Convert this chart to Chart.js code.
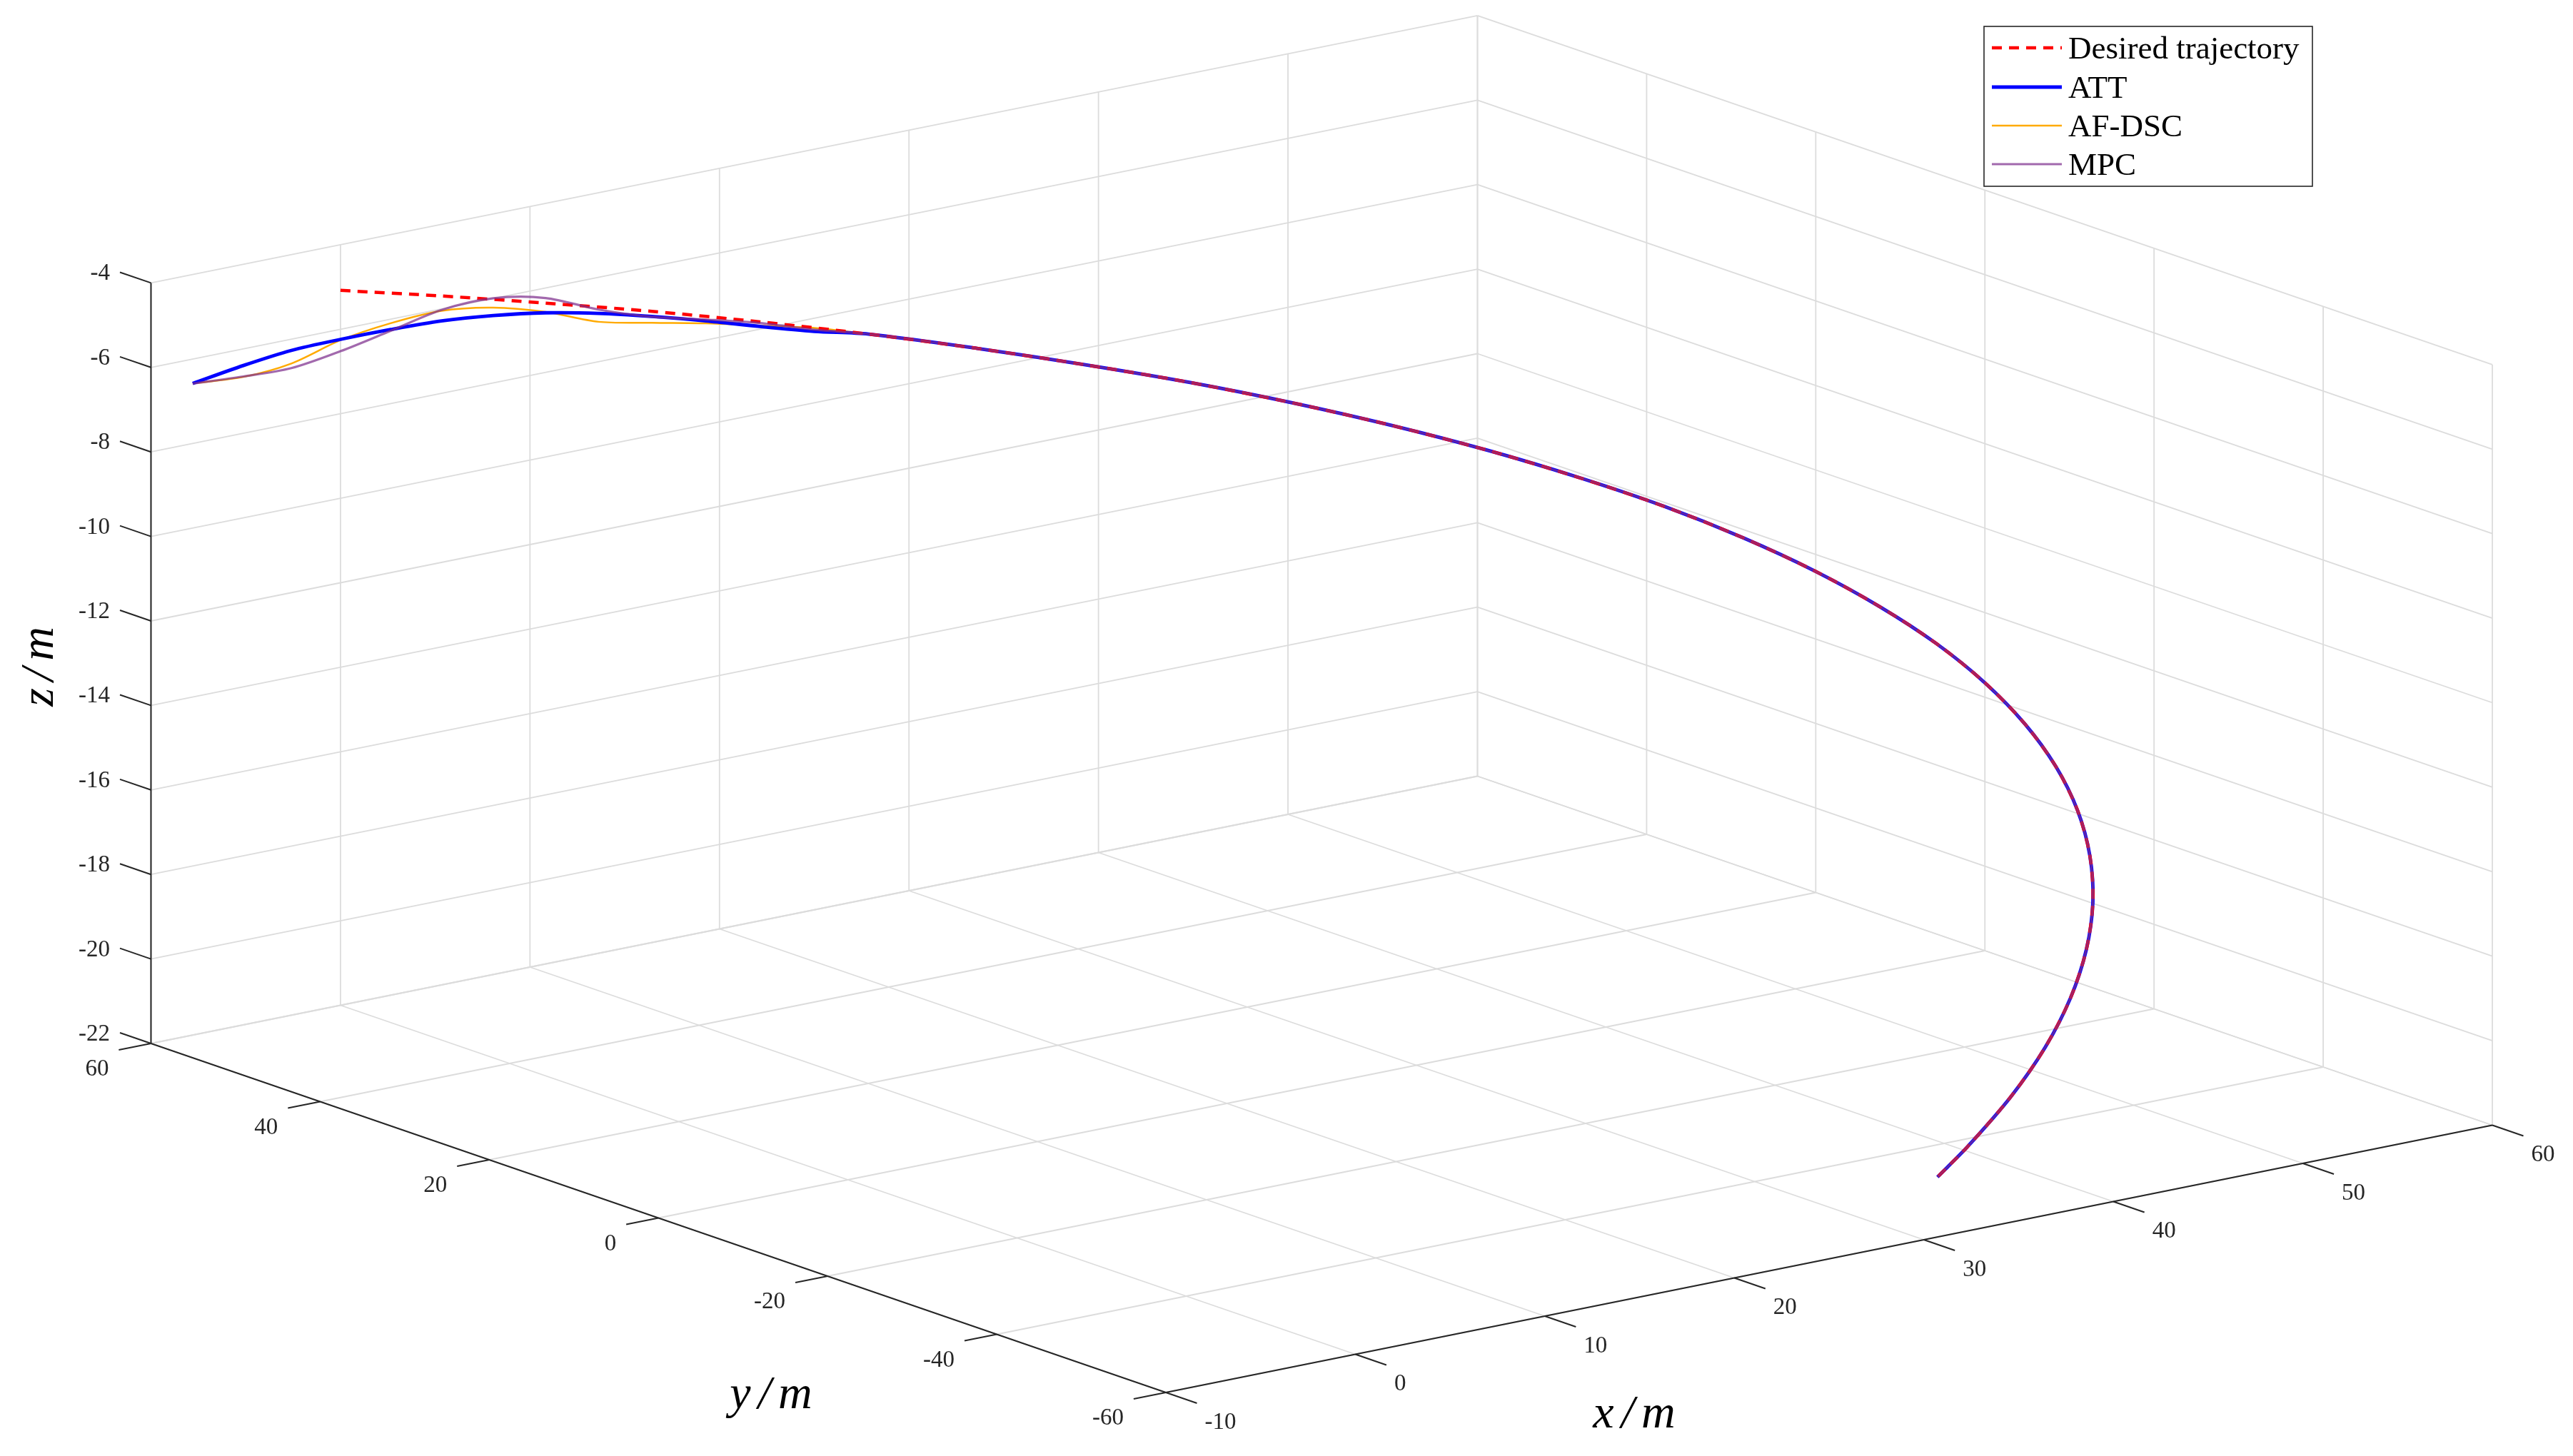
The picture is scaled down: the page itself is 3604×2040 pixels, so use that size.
<!DOCTYPE html>
<html>
<head>
<meta charset="utf-8">
<script src="https://cdn.jsdelivr.net/npm/chart.js@4.4.0/dist/chart.umd.min.js"></script>
<style>
  html, body { margin: 0; padding: 0; background: #fff; }
  #wrap { width: 3604px; height: 2040px; }
</style>
</head>
<body>
<div id="wrap"><canvas id="plot" width="3604" height="2040"></canvas></div>
<script>
// Desired trajectory
const desX = [0, 5.23, 10.42, 15.53, 20.52, 25.36, 30.00, 34.41, 38.57, 42.43, 45.96, 49.15, 51.96, 54.38, 56.38, 57.96, 59.09, 59.77, 60.00, 59.77, 59.09, 57.96, 56.38, 54.38, 51.96, 49.15, 45.96, 42.43, 38.57, 36.11];
const desY = [60.00, 59.77, 59.09, 57.96, 56.38, 54.38, 51.96, 49.15, 45.96, 42.43, 38.57, 34.41, 30.00, 25.36, 20.52, 15.53, 10.42, 5.23, 0, -5.23, -10.42, -15.53, -20.52, -25.36, -30.00, -34.41, -38.57, -42.43, -45.96, -47.92];
const desZ = [-5.08, -5.67, -6.26, -6.84, -7.43, -8.02, -8.61, -9.20, -9.78, -10.37, -10.96, -11.55, -12.14, -12.72, -13.31, -13.90, -14.49, -15.07, -15.66, -16.25, -16.84, -17.43, -18.01, -18.60, -19.19, -19.78, -20.37, -20.95, -21.54, -21.90];

// Start-up part of the three controllers, before they sit on the desired path
const headX = [-8.04, -5.23, -2.62, 0, 2.62, 5.23, 7.83, 10.42, 12.99, 15.53, 18.04, 20.52, 22.96];
const headY = [59.46, 59.77, 59.94, 60.00, 59.94, 59.77, 59.49, 59.09, 58.58, 57.96, 57.22, 56.38, 55.43];
const attZ   = [-6.52, -6.37, -6.26, -6.24, -6.24, -6.26, -6.35, -6.49, -6.70, -6.96, -7.24, -7.54, -7.81];
const afdscZ = [-6.52, -6.64, -6.57, -6.26, -6.09, -6.02, -6.16, -6.47, -6.90, -7.11, -7.30, -7.52, -7.73];
const mpcZ   = [-6.52, -6.63, -6.68, -6.52, -6.27, -6.00, -5.94, -6.14, -6.61, -6.97, -7.21, -7.46, -7.77];
const joinAt = 5; // index in the desired arrays where the controllers have converged

// Axes
const xTicks = [-10, 0, 10, 20, 30, 40, 50, 60];
const yTicks = [-60, -40, -20, 0, 20, 40, 60];
const zTicks = [-22, -20, -18, -16, -14, -12, -10, -8, -6, -4];
const xLim = [-10, 60], yLim = [-60, 60], zLim = [-22, -4];

const seriesNames = ["Desired trajectory", "ATT", "AF-DSC", "MPC"];

// view: where the (xmin, ymin, zmin) corner lands, and the step per data unit
const VIEW = { ox: 1633, oy: 1951, ex: [26.543, -5.35], ey: [-11.846, -4.075], ez: [0, -59.2] };

function project(x, y, z) {
  const a = x - xLim[0], b = y - yLim[0], c = z - zLim[0];
  return {
    x: VIEW.ox + a * VIEW.ex[0] + b * VIEW.ey[0] + c * VIEW.ez[0],
    y: VIEW.oy + a * VIEW.ex[1] + b * VIEW.ey[1] + c * VIEW.ez[1]
  };
}

function path(xs, ys, zs) {
  return xs.map((x, i) => project(x, ys[i], zs[i]));
}

const GRID = "#dcdcdc";
const AXIS = "#262626";

function segment(a, b, color, width, order) {
  return {
    data: [project(...a), project(...b)],
    showLine: true, pointRadius: 0, borderColor: color, borderWidth: width,
    order: order, tension: 0
  };
}

// grid on the two back walls and on the floor
const frameSets = [];
xTicks.forEach(x => frameSets.push(segment([x, yLim[1], zLim[0]], [x, yLim[1], zLim[1]], GRID, 1.8, 100)));
zTicks.forEach(z => frameSets.push(segment([xLim[0], yLim[1], z], [xLim[1], yLim[1], z], GRID, 1.8, 100)));
yTicks.forEach(y => frameSets.push(segment([xLim[1], y, zLim[0]], [xLim[1], y, zLim[1]], GRID, 1.8, 100)));
zTicks.forEach(z => frameSets.push(segment([xLim[1], yLim[0], z], [xLim[1], yLim[1], z], GRID, 1.8, 100)));
xTicks.forEach(x => frameSets.push(segment([x, yLim[0], zLim[0]], [x, yLim[1], zLim[0]], GRID, 1.8, 100)));
yTicks.forEach(y => frameSets.push(segment([xLim[0], y, zLim[0]], [xLim[1], y, zLim[0]], GRID, 1.8, 100)));
// axis lines
frameSets.push(segment([xLim[0], yLim[1], zLim[0]], [xLim[0], yLim[1], zLim[1]], AXIS, 2, 90));
frameSets.push(segment([xLim[0], yLim[0], zLim[0]], [xLim[0], yLim[1], zLim[0]], AXIS, 2, 90));
frameSets.push(segment([xLim[0], yLim[0], zLim[0]], [xLim[1], yLim[0], zLim[0]], AXIS, 2, 90));

const tailX = desX.slice(joinAt), tailY = desY.slice(joinAt), tailZ = desZ.slice(joinAt);
const desired = path(desX, desY, desZ);
const att   = path(headX.concat(tailX), headY.concat(tailY), attZ.concat(tailZ));
const afdsc = path(headX.concat(tailX), headY.concat(tailY), afdscZ.concat(tailZ));
const mpc   = path(headX.concat(tailX), headY.concat(tailY), mpcZ.concat(tailZ));

// order: higher is drawn first (orange and blue underneath, purple over the dashes)
const curveSets = [
  { label: seriesNames[0], data: desired, borderColor: "#ff0000", borderWidth: 4.5, borderDash: [14, 10], order: 3 },
  { label: seriesNames[1], data: att, borderColor: "#0000ff", borderWidth: 4.8, order: 4 },
  { label: seriesNames[2], data: afdsc, borderColor: "#ffaa00", borderWidth: 2.5, order: 5 },
  { label: seriesNames[3], data: mpc, borderColor: "rgba(126,47,142,0.72)", borderWidth: 3.2, order: 2 }
].map(d => Object.assign({ showLine: true, pointRadius: 0, tension: 0.3, fill: false }, d));

const FONT = '"Liberation Serif", "Times New Roman", serif';

// ticks, tick labels, axis titles and the legend box
const decorations = {
  id: "decorations",
  afterDatasetsDraw(chart) {
    const ctx = chart.ctx;
    const sx = chart.scales.x, sy = chart.scales.y;
    const px = p => ({ x: sx.getPixelForValue(p.x), y: sy.getPixelForValue(p.y) });
    const unit = (a, b) => {
      const p = px(a), q = px(b);
      const l = Math.hypot(q.x - p.x, q.y - p.y);
      return { x: (q.x - p.x) / l, y: (q.y - p.y) / l };
    };
    const TICK = 46;
    const dirY = unit(project(0, 0, 0), project(0, 1, 0));   // +y
    const dirNX = unit(project(1, 0, 0), project(0, 0, 0));  // -x
    const dirNY = unit(project(0, 1, 0), project(0, 0, 0));  // -y

    ctx.save();
    ctx.strokeStyle = AXIS;
    ctx.lineWidth = 2;
    ctx.fillStyle = AXIS;
    ctx.font = "33px " + FONT;
    ctx.textBaseline = "alphabetic";

    const tick = (p, d) => {
      const a = px(p);
      const b = { x: a.x + d.x * TICK, y: a.y + d.y * TICK };
      ctx.beginPath(); ctx.moveTo(a.x, a.y); ctx.lineTo(b.x, b.y); ctx.stroke();
      return b;
    };

    zTicks.forEach(z => {
      const e = tick(project(xLim[0], yLim[1], z), dirY);
      ctx.textAlign = "right";
      ctx.fillText(String(z), e.x - 14, e.y + 11);
    });
    yTicks.forEach(y => {
      const e = tick(project(xLim[0], y, zLim[0]), dirNX);
      ctx.textAlign = "right";
      ctx.fillText(String(y), e.x - 14, e.y + 36);
    });
    xTicks.forEach(x => {
      const e = tick(project(x, yLim[0], zLim[0]), dirNY);
      ctx.textAlign = "left";
      ctx.fillText(String(x), e.x + 11, e.y + 36);
    });

    // axis titles
    ctx.fillStyle = "#000";
    ctx.font = "italic 66px " + FONT;
    ctx.letterSpacing = "10px";
    ctx.textAlign = "center";
    ctx.textBaseline = "middle";
    ctx.fillText("x/m", 2294, 1983);
    ctx.fillText("y/m", 1085, 1956);
    ctx.save();
    ctx.translate(57, 929);
    ctx.rotate(-Math.PI / 2);
    ctx.fillText("z/m", 0, 0);
    ctx.restore();
    ctx.letterSpacing = "0px";

    // legend
    const box = { l: 2779, t: 37, r: 3239, b: 261 };
    ctx.fillStyle = "#fff";
    ctx.fillRect(box.l, box.t, box.r - box.l, box.b - box.t);
    ctx.strokeStyle = AXIS;
    ctx.lineWidth = 1.6;
    ctx.strokeRect(box.l, box.t, box.r - box.l, box.b - box.t);
    const rows = [67, 122, 176, 230];
    ctx.font = "45px " + FONT;
    ctx.textAlign = "left";
    ctx.textBaseline = "alphabetic";
    curveSets.forEach((ds, i) => {
      const y = rows[i];
      ctx.save();
      ctx.strokeStyle = ds.borderColor;
      ctx.lineWidth = ds.borderWidth;
      ctx.setLineDash(ds.borderDash || []);
      ctx.beginPath(); ctx.moveTo(2790, y); ctx.lineTo(2888, y); ctx.stroke();
      ctx.restore();
      ctx.fillStyle = "#000";
      ctx.fillText(ds.label, 2897, y + 15);
    });
    ctx.restore();
  }
};

new Chart(document.getElementById("plot"), {
  type: "scatter",
  data: { datasets: frameSets.concat(curveSets) },
  options: {
    responsive: false,
    animation: false,
    events: [],
    layout: { padding: 0 },
    plugins: { legend: { display: false }, tooltip: { enabled: false } },
    scales: {
      x: { type: "linear", min: 0, max: 3604, display: false },
      y: { type: "linear", min: 0, max: 2040, reverse: true, display: false }
    }
  },
  plugins: [decorations]
});
</script>
</body>
</html>
